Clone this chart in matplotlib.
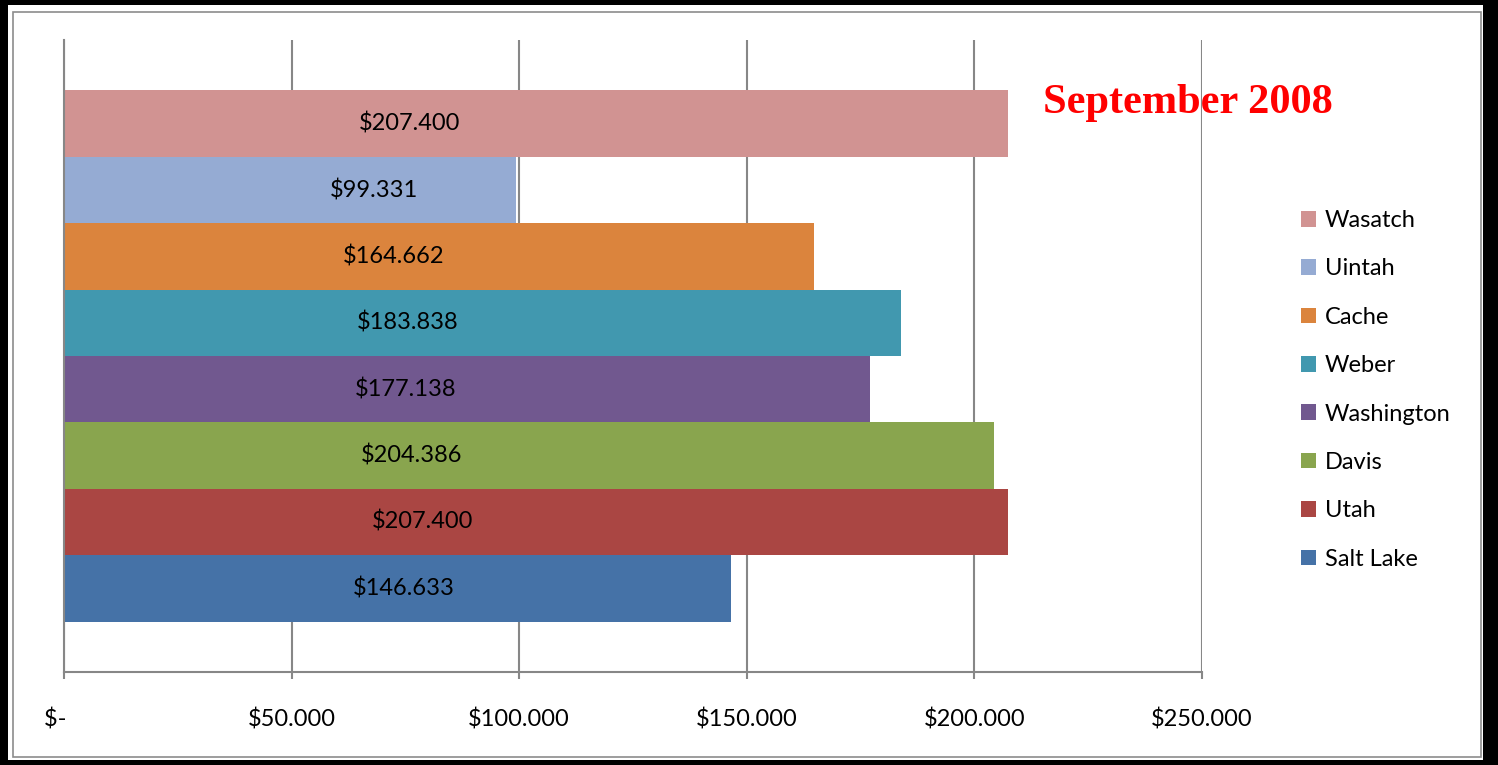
import matplotlib
matplotlib.use('Agg')
import matplotlib.pyplot as plt
from matplotlib.patches import Rectangle

# data (thousands of $), bottom -> top
counties = ['Salt Lake', 'Utah', 'Davis', 'Washington', 'Weber', 'Cache', 'Uintah', 'Wasatch']
values = [146.633, 207.400, 204.386, 177.138, 183.838, 164.662, 99.331, 207.400]
colors = ['#4572A7', '#AA4643', '#89A54E', '#71588F', '#4198AF', '#DB843D', '#95ABD3', '#D19392']
# where excel put the value labels (x, in data units)
label_pos = [74.7, 78.8, 76.4, 75.1, 75.4, 72.4, 68.2, 76.0]

ticks = [0, 50, 100, 150, 200, 250]
tick_labels = ['$-   ', '$50.000', '$100.000', '$150.000', '$200.000', '$250.000']
title = 'September 2008'

plt.rcParams['font.family'] = ['Lato', 'DejaVu Sans']
grid_col = '#878787'

fig = plt.figure(figsize=(14.98, 7.65), dpi=100)
fig.patch.set_facecolor('black')
W, H = 1498.0, 765.0
# white page inside the thick black border, then thin gray frame
fig.patches.append(Rectangle((8 / W, 5 / H), 1475 / W, 755 / H, transform=fig.transFigure,
                             facecolor='white', edgecolor='none', zorder=-2))
fig.patches.append(Rectangle((12.5 / W, 8 / H), 1468.5 / W, 745 / H, transform=fig.transFigure,
                             facecolor='none', edgecolor='#8c8c8c', lw=1.2, zorder=-1))

ax = fig.add_axes([64 / W, 93 / H, 1138 / W, 632 / H])
ax.set_facecolor('none')

bars = []
for i in range(len(counties)):
    b = ax.barh(i, values[i], height=1.0, color=colors[i], label=counties[i], zorder=2)
    bars.append(b)
    ax.text(label_pos[i], i, '${:.3f}'.format(values[i]), ha='center', va='center',
            fontsize=17, color='black', zorder=3)

ax.set_xlim(0, 250)
ax.set_ylim(-1.26, 8.26)
ax.set_xticks(ticks, tick_labels)
ax.set_yticks([])
ax.grid(axis='x', color=grid_col, lw=1.5, zorder=0)
ax.set_axisbelow(True)
for s in ['top', 'right']:
    ax.spines[s].set_visible(False)
for s in ['left', 'bottom']:
    ax.spines[s].set_color(grid_col)
    ax.spines[s].set_linewidth(1.5)
ax.tick_params(axis='x', direction='out', length=5, width=1.5, color=grid_col,
               labelsize=17, pad=21)

leg = ax.legend(handles=bars[::-1], labels=counties[::-1], loc='upper left',
                bbox_to_anchor=(1301 / W, 1 - 210 / H), bbox_transform=fig.transFigure,
                frameon=False, fontsize=17, handlelength=0.64, handleheight=0.64,
                handletextpad=0.38, labelspacing=1.16, borderpad=0, borderaxespad=0)

fig.text(1188 / W, 1 - 113 / H, title, ha='center', va='baseline', color='#FF0000',
         fontsize=30.5, fontweight='bold', family=['Liberation Serif', 'DejaVu Serif'])

fig.savefig('out.png', dpi=100, facecolor=fig.get_facecolor())
